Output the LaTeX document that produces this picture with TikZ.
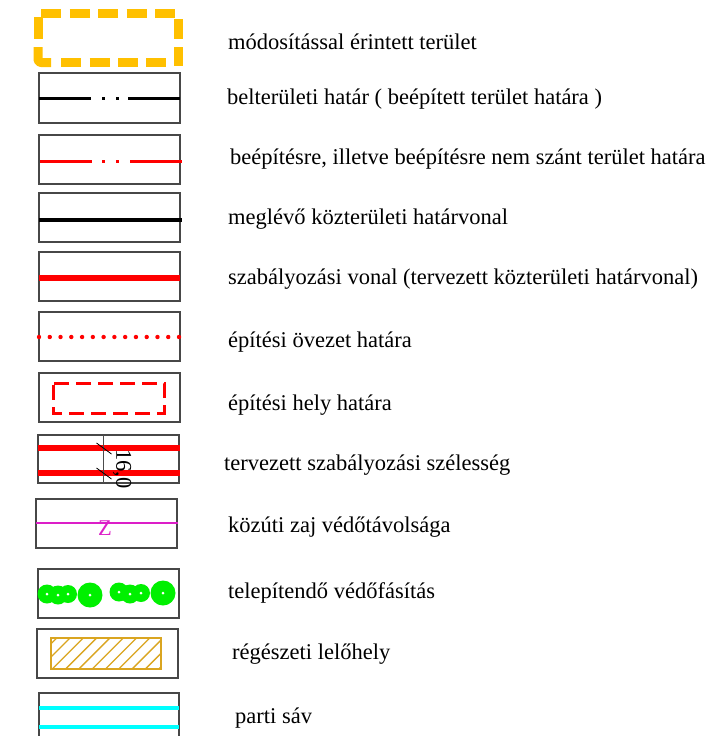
\documentclass[tikz,border=0pt]{standalone}
\usepackage{fontspec}
\setmainfont{Liberation Serif}
\definecolor{legorange}{RGB}{255,192,0}
\definecolor{legred}{RGB}{255,0,0}
\definecolor{legmag}{RGB}{220,30,200}
\definecolor{leggreen}{RGB}{0,240,0}
\definecolor{leggold}{RGB}{218,165,32}
\definecolor{legcyan}{RGB}{0,255,255}
\begin{document}
\begin{tikzpicture}[x=1pt,y=-1pt,
  box/.style={draw=black!72, line width=1.3pt},
  lbl/.style={anchor=west, inner sep=0pt, font=\fontsize{22.5}{26}\selectfont, text height=0.7em, text depth=0.2em},
  orangedash/.style={draw=legorange, line width=9pt, line cap=butt, line join=round, rounded corners=3pt},
  tree/.style={fill=leggreen},
  treedot/.style={fill=white},
]
\clip (0,0) rectangle (706,736);
\fill[white] (0,0) rectangle (706,736);

% 1 modified area (dashed orange frame)
\draw[orangedash] (38,17) -- (38,39);
\draw[orangedash] (38,47) -- (38,62.5) -- (51,62.5);
\draw[orangedash] (41,13.5) -- (61,13.5);
\draw[orangedash] (69.7,13.5) -- (89.7,13.5);
\draw[orangedash] (98,13.5) -- (118,13.5);
\draw[orangedash] (126.5,13.5) -- (146.5,13.5);
\draw[orangedash] (155,13.5) -- (174.5,13.5);
\draw[orangedash] (178.5,19) -- (178.5,39);
\draw[orangedash] (178.5,47) -- (178.5,66);
\draw[orangedash] (61,62.5) -- (81,62.5);
\draw[orangedash] (89.5,62.5) -- (109.5,62.5);
\draw[orangedash] (118,62.5) -- (138,62.5);
\draw[orangedash] (146,62.5) -- (166,62.5);

% 2 belteruleti hatar
\draw[box] (39,73) rectangle (180,123);
\draw[black, line width=3pt] (39,98) -- (91,98);
\draw[black, line width=3pt] (102,98) -- (104.5,98);
\draw[black, line width=3pt] (116,98) -- (118.5,98);
\draw[black, line width=3pt] (128,98) -- (180,98);

% 3 beepitesre szant hatar
\draw[box] (39,135) rectangle (180,184);
\draw[legred, line width=3pt] (40,161) -- (92,161);
\draw[legred, line width=3pt] (102,161) -- (104.5,161);
\draw[legred, line width=3pt] (116,161) -- (118.5,161);
\draw[legred, line width=3pt] (130,161) -- (182,161);

% 4 meglevo kozteruleti hatarvonal
\draw[box] (39,193) rectangle (180,242);
\draw[black, line width=3.5pt] (39,220) -- (182,220);

% 5 szabalyozasi vonal
\draw[box] (39,252) rectangle (180,301);
\draw[legred, line width=5.5pt] (39,278) -- (180,278);

% 6 epitesi ovezet hatara
\draw[box] (39,312) rectangle (180,361);
\foreach \i in {0,...,13} \fill[legred] (39+\i*10.77,337) circle (2.2pt);

% 7 epitesi hely hatara
\draw[box] (39,373) rectangle (180,422);
\draw[legred, line width=3pt, dash pattern=on 15pt off 7pt, dash phase=-2pt] (53,383) rectangle (164,413);

% 8 tervezett szabalyozasi szelesseg
\draw[box] (38,435) rectangle (179,483);
\draw[legred, line width=5.5pt] (38,448) -- (180,448);
\draw[legred, line width=5.5pt] (38,473) -- (180,473);
\draw[black!70, line width=1pt] (103,435) -- (103,483);
\draw[black, line width=0.8pt] (96.5,443) -- (111.5,454);
\draw[black, line width=0.8pt] (96.5,468) -- (111.5,479);
\node[inner sep=0pt, rotate=-90, font=\fontsize{22.5}{26}\selectfont] (w) at (122,469) {16,0};

% 9 kozuti zaj
\draw[box] (36,499) rectangle (177,548);
\draw[legmag, line width=1.5pt] (36,523) -- (178,523);
\node[inner sep=0pt, text=legmag, font=\fontsize{22.5}{26}\selectfont] (z) at (105,528) {Z};

% 10 vedofasitas
\draw[box] (38,569) rectangle (179,618);
\foreach \cx/\cy/\r in {47/594/9.5, 58/595/9.5, 68/594/9, 90/595/12.5, 119/592/9.5, 130/594/9.5, 141/593/9, 163/593/12.5} {
  \fill[tree] (\cx,\cy) circle (\r pt);
}
\foreach \cx/\cy in {47/594, 58/595, 68/594, 90/595, 119/592, 130/594, 141/593, 163/593} {
  \fill[treedot] (\cx,\cy) circle (1.5pt);
}

% 11 regeszeti lelohely
\draw[box] (37,629) rectangle (178,678);
\begin{scope}
  \clip (51,638) rectangle (161,669);
  \foreach \k in {0,...,11} \draw[leggold, line width=1.3pt] (25.7+\k*13.3,669) -- (56.7+\k*13.3,638);
\end{scope}
\draw[leggold, line width=1.5pt] (51,638) rectangle (161,669);

% 12 parti sav
\draw[box] (39,693) rectangle (179,745);
\draw[legcyan, line width=4pt] (39,708) -- (179,708);
\draw[legcyan, line width=4pt] (39,727) -- (179,727);

% labels
\node[lbl] (t1) at (228,47) {módosítással érintett terület};
\node[lbl] (t2) at (227,101.5) {belterületi határ ( beépített terület határa )};
\node[lbl] (t3) at (230,162) {beépítésre, illetve beépítésre nem szánt terület határa};
\node[lbl] (t4) at (228,222) {meglévő közterületi határvonal};
\node[lbl] (t5) at (228,282) {szabályozási vonal (tervezett közterületi határvonal)};
\node[lbl] (t6) at (228,345) {építési övezet határa};
\node[lbl] (t7) at (228,408) {építési hely határa};
\node[lbl] (t8) at (224,468) {tervezett szabályozási szélesség};
\node[lbl] (t9) at (228,530) {közúti zaj védőtávolsága};
\node[lbl] (t10) at (228,596) {telepítendő védőfásítás};
\node[lbl] (t11) at (232,657) {régészeti lelőhely};
\node[lbl] (t12) at (235,721) {parti sáv};
\end{tikzpicture}
\end{document}
